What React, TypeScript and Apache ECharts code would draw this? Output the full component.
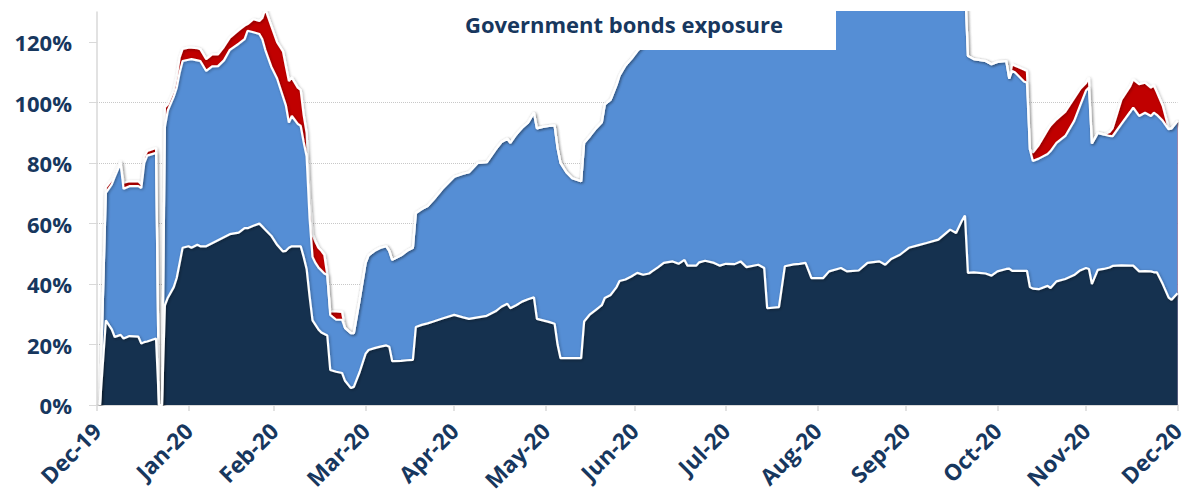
import React, { useEffect, useRef } from "react";
import * as echarts from "echarts";

const chartTitle = "Government bonds exposure";

// Month-end dates where the axis ticks and labels sit
const monthEnds = [
  "2019-12-31", "2020-01-31", "2020-02-29", "2020-03-31", "2020-04-30", "2020-05-31",
  "2020-06-30", "2020-07-31", "2020-08-31", "2020-09-30", "2020-10-31", "2020-11-30", "2020-12-31",
];

const yTicks = [0, 20, 40, 60, 80, 100, 120];

const dates = [
  "2020-01-01", "2020-01-03", "2020-01-05", "2020-01-06", "2020-01-08", "2020-01-09", "2020-01-11", "2020-01-14", "2020-01-15", "2020-01-16", "2020-01-17", "2020-01-20", "2020-01-21", "2020-01-22", "2020-01-23", "2020-01-24", "2020-01-26", "2020-01-27", "2020-01-28", "2020-01-29", "2020-01-31",
  "2020-02-01", "2020-02-03", "2020-02-04", "2020-02-06", "2020-02-08", "2020-02-10", "2020-02-12", "2020-02-14", "2020-02-17", "2020-02-19", "2020-02-20", "2020-02-22", "2020-02-24", "2020-02-25", "2020-02-26", "2020-02-28",
  "2020-03-01", "2020-03-03", "2020-03-04", "2020-03-05", "2020-03-06", "2020-03-08", "2020-03-09", "2020-03-10", "2020-03-11", "2020-03-12", "2020-03-13", "2020-03-14", "2020-03-15", "2020-03-16", "2020-03-17", "2020-03-18", "2020-03-19", "2020-03-21", "2020-03-23", "2020-03-24", "2020-03-26", "2020-03-27", "2020-03-29", "2020-03-31",
  "2020-04-01", "2020-04-03", "2020-04-05", "2020-04-07", "2020-04-08", "2020-04-09", "2020-04-12", "2020-04-14", "2020-04-16", "2020-04-17", "2020-04-19", "2020-04-21", "2020-04-23", "2020-04-26", "2020-04-30",
  "2020-05-03", "2020-05-05", "2020-05-08", "2020-05-11", "2020-05-14", "2020-05-16", "2020-05-18", "2020-05-19", "2020-05-21", "2020-05-23", "2020-05-25", "2020-05-27", "2020-05-28", "2020-05-30",
  "2020-06-01", "2020-06-03", "2020-06-04", "2020-06-05", "2020-06-07", "2020-06-09", "2020-06-12", "2020-06-13", "2020-06-15", "2020-06-17", "2020-06-19", "2020-06-20", "2020-06-22", "2020-06-24", "2020-06-25", "2020-06-27", "2020-06-29",
  "2020-07-01", "2020-07-03", "2020-07-05", "2020-07-06", "2020-07-08", "2020-07-10", "2020-07-13", "2020-07-15", "2020-07-17", "2020-07-18", "2020-07-21", "2020-07-22", "2020-07-24", "2020-07-27", "2020-07-29", "2020-07-31",
  "2020-08-03", "2020-08-05", "2020-08-07", "2020-08-11", "2020-08-13", "2020-08-14", "2020-08-18", "2020-08-20", "2020-08-23", "2020-08-25", "2020-08-27", "2020-08-29",
  "2020-09-02", "2020-09-04", "2020-09-08", "2020-09-10", "2020-09-14", "2020-09-17", "2020-09-21", "2020-09-23", "2020-09-25", "2020-09-28",
  "2020-10-01", "2020-10-04", "2020-10-07", "2020-10-11", "2020-10-15", "2020-10-17", "2020-10-19", "2020-10-20", "2020-10-21", "2020-10-23", "2020-10-27", "2020-10-29", "2020-10-31",
  "2020-11-03", "2020-11-04", "2020-11-05", "2020-11-06", "2020-11-09", "2020-11-10", "2020-11-11", "2020-11-12", "2020-11-14", "2020-11-17", "2020-11-18", "2020-11-20", "2020-11-23", "2020-11-26", "2020-11-28", "2020-11-30",
  "2020-12-01", "2020-12-02", "2020-12-04", "2020-12-06", "2020-12-08", "2020-12-09", "2020-12-12", "2020-12-15", "2020-12-16", "2020-12-18", "2020-12-20", "2020-12-22", "2020-12-23", "2020-12-24", "2020-12-26", "2020-12-28", "2020-12-29", "2020-12-31",
];

// Level (in %) reached by the navy band
const navyLevel = [
  0, 28, 25, 22.5, 23.2, 22, 22.8, 22.6, 20.3, 20.8, 21, 22, 0, 0, 33, 35.5, 39, 42, 47, 52, 52.5,
  52, 53, 52.5, 52.5, 53.5, 54.5, 55.5, 56.5, 57, 58.5, 58.5, 59.3, 60, 59, 58, 56,
  53, 50.8, 51, 52, 52.5, 52.5, 52.5, 49, 45, 36, 28, 26.5, 25, 24, 23.5, 23, 11.6, 11, 10.6, 8, 5.6, 6, 11, 17,
  18.2, 18.8, 19.3, 19.7, 19.3, 14.5, 14.6, 14.8, 14.9, 25.8, 26.5, 27, 27.6, 28.6, 29.8,
  29, 28.5, 29, 29.5, 31, 32.5, 33.5, 32, 33, 34.2, 35, 35.6, 28.5, 28,
  27.5, 26.9, 20, 15.5, 15.5, 15.5, 15.5, 27.6, 30, 31.5, 33, 35.4, 36.4, 39, 41, 41.5, 42.5,
  43.7, 43.1, 43.5, 44.2, 45.5, 47, 47.5, 46.7, 48, 46.1, 46.1, 47.2, 47.7, 47, 46.1, 46.7,
  46.6, 47.5, 45.6, 46.4, 45.3, 32, 32.4, 45.9, 46.5, 46.7, 47, 42,
  42, 44.2, 45.3, 44.2, 44.5, 47, 47.5, 46.4, 48.3, 49.7,
  52, 52.8, 53.6, 54.7, 58, 56.9, 61, 62.7, 43.7, 43.9, 43.5, 42.8, 44.2,
  45, 45.1, 44.4, 44.4, 44.4, 44.4, 39, 38.5, 38.3, 39.4, 38.7, 40.9, 41.7, 43, 44.5, 45.3,
  45, 40, 44.7, 45, 45.5, 46, 46.2, 46.1, 46.1, 44.2, 44.3, 44.2, 43.9, 43.9, 40, 35.5, 34.8, 37,
];

// Level (in %) reached by the light blue band (navy + blue)
const blueLevel = [
  0, 70.2, 73, 75.5, 80, 71.5, 72.4, 72.4, 71.8, 80, 82.5, 83.4, 0, 0, 92, 97.5, 102, 105, 110, 113.8, 114.2,
  114.4, 114, 113.8, 110.5, 112, 112.1, 114, 117.5, 119.5, 121, 123.8, 123.3, 122.7, 121, 117.5, 112,
  108, 102, 99, 93.4, 95.6, 93, 92.3, 87, 82.3, 62, 49, 47, 45.5, 44.5, 43.5, 43, 29.8, 28.2, 28.2, 25.5, 23.8, 23.8, 35, 47,
  49.5, 51, 52, 52.5, 51, 48, 49.5, 51, 52, 63.5, 64.8, 65.8, 68, 71.5, 75.5,
  76.5, 77, 80.1, 80.3, 84.5, 87, 88.1, 86.7, 89.5, 91.7, 93.4, 96.7, 91.5, 92,
  92.3, 92.5, 85, 80.1, 77, 75, 74, 86.7, 89, 91.5, 93.5, 99.4, 101, 106, 109, 112.3, 114.5,
  117.1, 119, 122, 124, 126, 128, 131, 133, 134, 134, 135, 135, 136, 136, 137, 137,
  138, 138, 138, 139, 139, 137, 137, 139, 139, 140, 140, 139,
  139, 140, 140, 140, 141, 141, 141, 141, 141, 141,
  141, 141, 141, 141, 141, 141, 141, 140, 115.5, 114.4, 113.8, 112.7, 113.5,
  113.8, 108, 110.5, 110, 107, 106.6, 84.5, 80.7, 81.5, 83, 84, 86.7, 89, 94, 99, 104,
  105, 86.5, 90, 89.5, 89, 88.9, 93, 97, 98.4, 95.6, 96.7, 95.6, 96.7, 96, 94, 91.2, 91.5, 94,
];

// Level (in %) reached by the red band (total exposure)
const redLevel = [
  0, 72, 74.5, 77, 80.7, 73.5, 74, 74, 73, 82, 84, 85, 0, 0, 98.5, 99.5, 104, 108.5, 115, 117.8, 118.2,
  118.2, 118, 117.7, 114.4, 116, 116, 118.5, 121.5, 124, 125.5, 126, 127.6, 127, 128, 131, 125.5,
  120, 117, 112, 107.2, 108.3, 105, 104.2, 96, 90, 70, 56.4, 54, 52, 51, 49.7, 43, 31, 31, 30.8, 25.5, 23.8, 23.8, 35, 47,
  49.5, 51, 52, 52.5, 51, 48, 49.5, 51, 52, 63.5, 64.8, 65.8, 68, 71.5, 75.5,
  76.5, 77, 80.1, 80.3, 84.5, 87, 88.1, 86.7, 89.5, 91.7, 93.4, 96.7, 91.5, 92,
  92.3, 92.5, 85, 80.1, 77, 75, 74, 86.7, 89, 91.5, 93.5, 99.4, 101, 106, 109, 112.3, 114.5,
  117.1, 119, 122, 124, 126, 128, 131, 133, 134, 134, 135, 135, 136, 136, 137, 137,
  138, 138, 138, 139, 139, 137, 137, 139, 139, 140, 140, 139,
  139, 140, 140, 140, 141, 141, 141, 141, 141, 141,
  141, 141, 141, 141, 141, 141, 141, 140, 115.5, 114.4, 113.8, 112.7, 113.5,
  113.8, 108, 112.7, 112.2, 111, 110.5, 84.5, 83.5, 86, 91, 92.5, 94.5, 97, 101.5, 104.5, 106.5,
  108.3, 86.5, 90, 89.5, 90.3, 91.5, 101, 105.5, 107.7, 106.1, 106.6, 105, 105.7, 103.5, 99, 91.5, 91.5, 94,
];

const MONTHS = ["Jan", "Feb", "Mar", "Apr", "May", "Jun", "Jul", "Aug", "Sep", "Oct", "Nov", "Dec"];
const TEXT = "#17375E";
const FONT = "Open Sans";

function toTime(s: string): number {
  const [y, m, d] = s.split("-").map(Number);
  return new Date(y, m - 1, d).getTime();
}

function pairs(levels: number[]) {
  return dates.map((d, i) => [toTime(d), levels[i]]);
}

const whiteLine = {
  color: "#ffffff",
  width: 2.2,
  shadowBlur: 3,
  shadowColor: "rgba(0,0,0,0.35)",
  shadowOffsetX: 1,
  shadowOffsetY: 1,
};

function areaSeries(name: string, levels: number[], color: string) {
  return {
    name,
    type: "line",
    data: pairs(levels),
    symbol: "none",
    showSymbol: false,
    lineStyle: whiteLine,
    areaStyle: { color, opacity: 1, origin: "start" },
    emphasis: { disabled: true },
    silent: true,
  };
}

export default function App() {
  const ref = useRef<HTMLDivElement>(null);

  useEffect(() => {
    if (!ref.current) return;
    const chart = echarts.init(ref.current, undefined, { renderer: "svg" });
    const tickTimes = monthEnds.map(toTime);
    chart.setOption({
      animation: false,
      backgroundColor: "#ffffff",
      grid: {
        left: 97,
        right: 4.5,
        top: 12,
        bottom: 91,
        containLabel: false,
        outerBoundsMode: "none",
      },
      xAxis: {
        type: "value",
        min: tickTimes[0],
        max: tickTimes[tickTimes.length - 1],
        axisLine: { show: true, onZero: false, lineStyle: { color: "#D9D9D9", width: 2 } },
        axisTick: {
          show: true,
          customValues: tickTimes,
          length: 6,
          lineStyle: { color: "#D9D9D9", width: 1.5 },
        },
        splitLine: { show: false },
        axisLabel: {
          customValues: tickTimes,
          rotate: 45,
          margin: 22,
          hideOverlap: false,
          showMinLabel: true,
          showMaxLabel: true,
          color: TEXT,
          fontFamily: FONT,
          fontWeight: "bold",
          fontSize: 22.5,
          formatter: (v: number) => {
            const d = new Date(v);
            return MONTHS[d.getMonth()] + "-" + String(d.getFullYear()).slice(2);
          },
        },
      },
      yAxis: {
        type: "value",
        min: 0,
        max: 130,
        interval: 20,
        axisLine: { show: true, lineStyle: { color: "#D9D9D9", width: 1.5 } },
        axisTick: {
          show: true,
          customValues: yTicks,
          length: 8,
          lineStyle: { color: "#D9D9D9", width: 1 },
        },
        splitLine: {
          show: true,
          showMinLine: false,
          showMaxLine: false,
          lineStyle: { color: "#C8C8C8", type: "dotted", width: 1 },
        },
        axisLabel: {
          customValues: yTicks,
          margin: 25,
          color: TEXT,
          fontFamily: FONT,
          fontWeight: "bold",
          fontSize: 22,
          formatter: (v: number) => v + "%",
        },
      },
      series: [
        areaSeries("Red band", redLevel, "#C00000"),
        areaSeries("Blue band", blueLevel, "#558ED5"),
        areaSeries("Navy band", navyLevel, "#15314F"),
      ],
      graphic: [
        {
          type: "rect",
          z: 100,
          shape: { x: 412, y: 0, width: 424, height: 50 },
          style: { fill: "#ffffff" },
          silent: true,
        },
        {
          type: "text",
          z: 101,
          x: 624,
          y: 24,
          style: {
            text: chartTitle,
            fill: TEXT,
            fontFamily: FONT,
            fontWeight: "bold",
            fontSize: 22,
            align: "center",
            verticalAlign: "middle",
          },
          silent: true,
        },
      ],
    });
    return () => chart.dispose();
  }, []);

  return (
    <div
      ref={ref}
      style={{ position: "fixed", left: 0, top: 0, width: 1182, height: 496 }}
    />
  );
}
